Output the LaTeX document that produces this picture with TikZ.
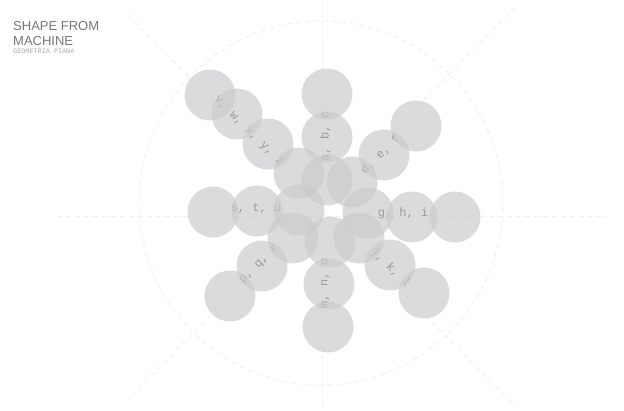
\documentclass[tikz,border=0pt]{standalone}
\usepackage{fontspec}
\setmainfont{Liberation Sans}
\newfontfamily\monof{Liberation Mono}
\definecolor{bubfill}{RGB}{203,203,206}
\definecolor{guide}{RGB}{239,239,239}
\definecolor{titlegray}{RGB}{120,120,120}
\definecolor{subgray}{RGB}{170,170,170}
\definecolor{armgray}{RGB}{50,50,50}
\begin{document}
\begin{tikzpicture}[x=1pt,y=-1pt,
  bub/.style={circle,minimum size=51pt,inner sep=0pt,fill=bubfill,fill opacity=0.68,draw=none},
  guideline/.style={draw=guide,line width=0.8pt,dash pattern=on 5pt off 4pt},
  armtext/.style={font=\monof\fontsize{12}{12}\selectfont,text=armgray,anchor=mid,inner sep=0pt},
  titletext/.style={font=\fontsize{13}{13}\selectfont,text=titlegray,anchor=base west,inner sep=0pt},
  subtext/.style={font=\monof\fontsize{6.8}{6.8}\selectfont,text=subgray,anchor=base west,inner sep=0pt}]
\useasboundingbox (0,0) rectangle (624,410);
\fill[white] (0,0) rectangle (624,410);
% guides
\coordinate (gc) at (321,203);
\coordinate (hl) at (57,216);
\coordinate (hr) at (607,216);
\coordinate (vt) at (322,4);
\coordinate (vb) at (322,410);
\coordinate (d1a) at (128,15);
\coordinate (d1b) at (515,406);
\coordinate (d2a) at (515,8);
\coordinate (d2b) at (128,399);
\draw[guideline] (gc) circle[radius=182pt];
\draw[guideline] (hl) -- (hr);
\draw[guideline] (vt) -- (vb);
\draw[guideline] (d1a) -- (d1b);
\draw[guideline] (d2a) -- (d2b);
% arm texts (under the bubbles)
\node[armtext,rotate=90] (tabc) at (326,136) {a, b, c};
\node[armtext,rotate=45] (tdef) at (381,155) {d, e, f};
\node[armtext] (tghi) at (403,214) {g, h, i};
\node[armtext,rotate=-45] (tjkl) at (390,268) {j, k, l};
\node[armtext,rotate=90] (tmno) at (325,283) {m, n, o};
\node[armtext,rotate=45] (tpqr) at (259,264) {p, q, r};
\node[armtext] (tstu) at (256,209) {s, t, u};
\node[armtext,rotate=-45] (tvz) at (249,131) {v, w, x, y, z};
% bubbles
\node[bub] (u1) at (327,94) {};
\node[bub] (u2) at (327,137) {};
\node[bub] (u3) at (327,180) {};
\node[bub] (ur1) at (416,126) {};
\node[bub] (ur2) at (384,155) {};
\node[bub] (ur3) at (352,182) {};
\node[bub] (r1) at (455,217) {};
\node[bub] (r2) at (412,217) {};
\node[bub] (r3) at (368,213) {};
\node[bub] (lr1) at (424,293) {};
\node[bub] (lr2) at (390,265) {};
\node[bub] (lr3) at (359,238) {};
\node[bub] (d1) at (328,327) {};
\node[bub] (d2) at (329,284) {};
\node[bub] (d3) at (330,242) {};
\node[bub] (ll1) at (230,296) {};
\node[bub] (ll2) at (262,266) {};
\node[bub] (ll3) at (293,238) {};
\node[bub] (l1) at (213,212) {};
\node[bub] (l2) at (257,211) {};
\node[bub] (l3) at (299,210) {};
\node[bub] (ul1) at (210,95) {};
\node[bub] (ul2) at (237,114) {};
\node[bub] (ul3) at (268,144) {};
\node[bub] (ul4) at (299,173) {};
% title
\node[titletext] (title1) at (13,30.7) {SHAPE FROM};
\node[titletext] (title2) at (13,45) {MACHINE};
\node[subtext] (subtitle) at (13,53.3) {GEOMETRIA PIANA};
\end{tikzpicture}
\end{document}
